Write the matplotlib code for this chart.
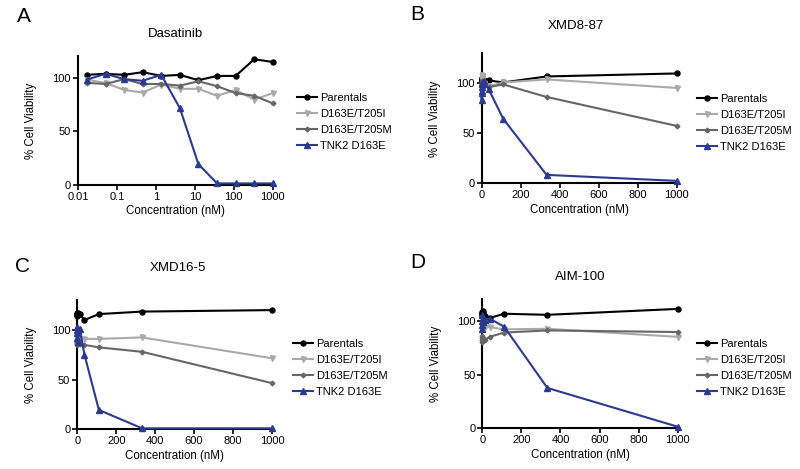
"""Cell viability dose-response curves, 4 panels (A-D)."""
import matplotlib
matplotlib.use("Agg")
import matplotlib.pyplot as plt
import numpy as np

plt.rcParams["font.family"] = ["Liberation Sans", "DejaVu Sans"]

# 3-fold dilution series (nM)
conc = [0.0169, 0.0508, 0.152, 0.457, 1.37, 4.12, 12.3, 37.0, 111.0, 333.0, 1000.0]

labels = ["Parentals", "D163E/T205I", "D163E/T205M", "TNK2 D163E"]
colors = ["#000000", "#a9a9a9", "#666666", "#2b3990"]
markers = ["o", "v", "D", "^"]
msizes = [3.6, 3.6, 2.4, 4.0]

# A - Dasatinib
dasa_par = [102.5, 103.5, 102.5, 105, 101.5, 102.5, 97.5, 101.5, 101.5, 117, 114.5]
dasa_t205i = [98, 95, 88.5, 86, 93.5, 89.5, 89.5, 83, 88.5, 79.5, 85.5]
dasa_t205m = [95, 94, 98.5, 94, 94, 92.5, 96.5, 92, 85.5, 83, 76]
dasa_tnk2 = [98, 103.5, 98.5, 97, 102.5, 71.5, 19.5, 1.5, 1.5, 1.5, 1.5]

# B - XMD8-87
xmd8_par = [104, 103, 105, 102, 104, 101, 103, 103, 101, 107, 110]
xmd8_t205i = [108, 106, 107, 105, 104, 103, 100, 97, 101, 104, 95.5]
xmd8_t205m = [100, 102, 98, 100, 96, 99, 97, 96.5, 99, 86.5, 57.5]
xmd8_tnk2 = [100, 96, 90, 83, 92, 99, 102, 94, 64.5, 8.5, 2.5]

# C - XMD16-5
xmd16_par = [116, 117, 115, 114, 116, 117, 116, 110, 116, 118.5, 120]
xmd16_t205i = [92, 91, 90, 92, 91, 93, 91, 91, 91, 92.5, 71.5]
xmd16_t205m = [87, 86, 88, 85, 87, 86, 86, 85, 82.5, 78, 46.5]
xmd16_tnk2 = [100, 103, 97, 92, 88, 99, 101, 75, 19.5, 1, 1]

# D - AIM-100
aim_par = [108, 107, 104, 106, 109, 107, 104, 102.5, 106.5, 105.5, 111]
aim_t205i = [96, 95, 97, 94, 96, 95, 94, 94, 92, 92.5, 85]
aim_t205m = [84, 82, 86, 80, 84, 83, 82, 85, 89, 91, 89.5]
aim_tnk2 = [105, 100, 96, 92, 103, 99, 101, 102, 94.5, 37.5, 1.5]

panels = [
    ("A", "Dasatinib", [dasa_par, dasa_t205i, dasa_t205m, dasa_tnk2], True, 120,
     [0.0975, 0.6055, 0.2435, 0.275], (17, 16), 175, 34, (297, 122)),
    ("B", "XMD8-87", [xmd8_par, xmd8_t205i, xmd8_t205m, xmd8_tnk2], False, 130,
     [0.602, 0.609, 0.244, 0.277], (410, 14), 576, 26, (697, 123)),
    ("C", "XMD16-5", [xmd16_par, xmd16_t205i, xmd16_t205m, xmd16_tnk2], False, 130,
     [0.0966, 0.0846, 0.2434, 0.2754], (15, 266), 178, 268, (293, 368)),
    ("D", "AIM-100", [aim_par, aim_t205i, aim_t205m, aim_tnk2], False, 120,
     [0.603, 0.0868, 0.244, 0.2752], (410, 262), 580, 277, (697, 368)),
]

W, H = 800, 469
fig = plt.figure(figsize=(W / 100, H / 100), dpi=100)

for letter, title, series, logx, ytop, rect, lpos, tx, ty, legpos in panels:
    ax = fig.add_axes(rect)
    for i, ys in enumerate(series):
        ax.plot(conc, ys, color=colors[i], marker=markers[i], markersize=msizes[i],
                linewidth=1.5, label=labels[i], clip_on=False, zorder=3 + i)
    if logx:
        ax.set_xscale("log")
        ax.set_xlim(0.01, 1000)
        ticks = [0.01, 0.1, 1, 10, 100, 1000]
        ax.set_xticks(ticks)
        ax.set_xticklabels(["0.01", "0.1", "1", "10", "100", "1000"])
        ax.minorticks_off()
    else:
        ax.set_xlim(0, 1000)
        ax.set_xticks([0, 200, 400, 600, 800, 1000])
    ax.set_ylim(0, ytop)
    ax.set_yticks([0, 50, 100])
    for s in ["top", "right"]:
        ax.spines[s].set_visible(False)
    for s in ["left", "bottom"]:
        ax.spines[s].set_linewidth(1.5)
    ax.tick_params(direction="out", width=1.2, length=3.5, labelsize=8, pad=1.5)
    ax.set_xlabel("Concentration (nM)", fontsize=8.3, labelpad=2.5)
    ax.set_ylabel("% Cell Viability", fontsize=8.3, labelpad=11)
    fig.text(tx / W, 1 - ty / H, title, fontsize=9.5, ha="center", va="center")
    fig.text(lpos[0] / W, 1 - lpos[1] / H, letter, fontsize=15, ha="left", va="center")
    ax.legend(loc="center left", bbox_to_anchor=(legpos[0] / W, 1 - legpos[1] / H),
              bbox_transform=fig.transFigure, frameon=False, fontsize=8,
              handlelength=1.8, handletextpad=0.25, labelspacing=0.55, borderaxespad=0,
              borderpad=0)

fig.savefig("out.png", dpi=100)
